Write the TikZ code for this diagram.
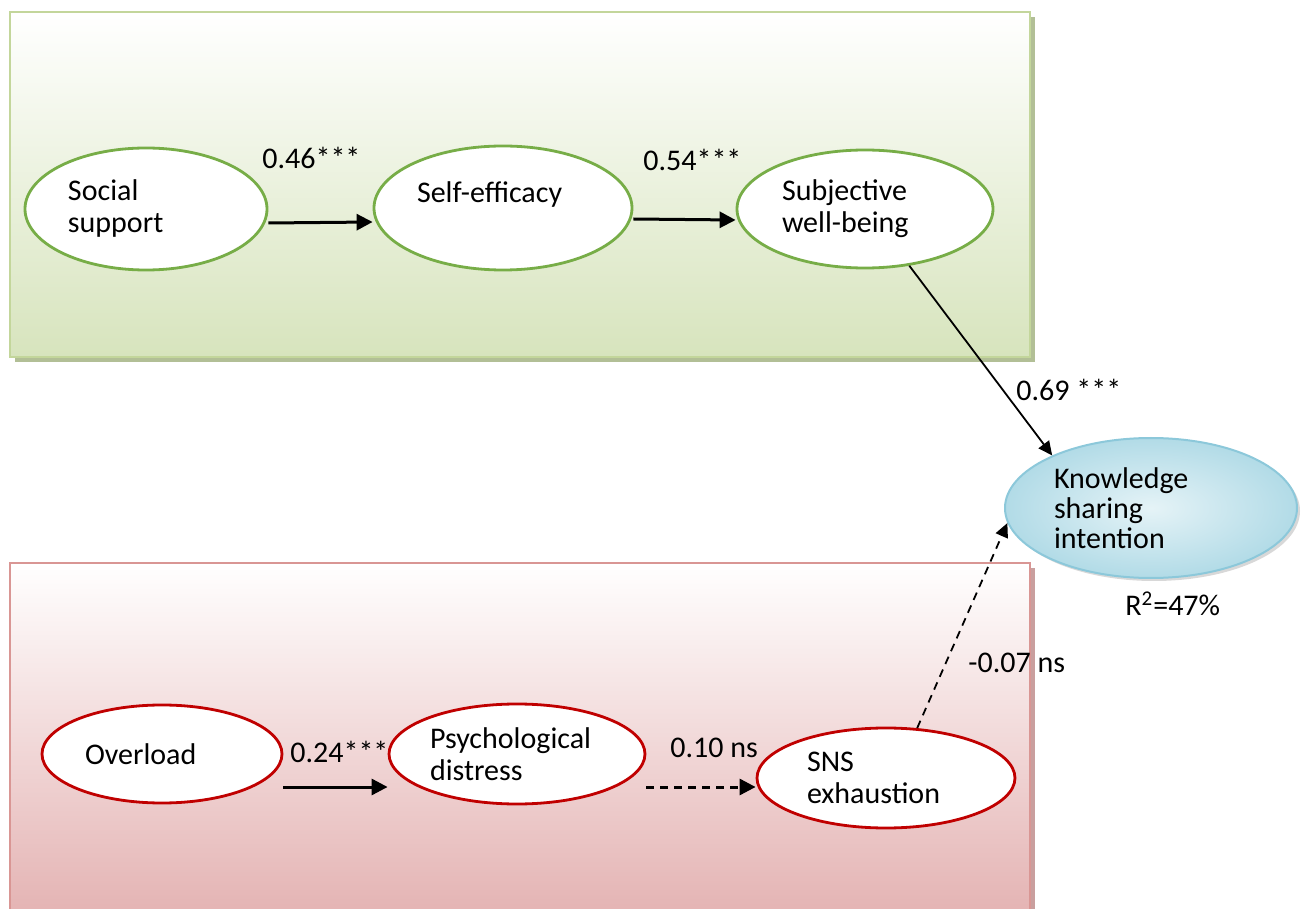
\documentclass[tikz,border=0pt]{standalone}
\usepackage{fontspec}
\setmainfont{Carlito}
\usetikzlibrary{shapes.geometric,arrows.meta,shadows}

\definecolor{grnline}{HTML}{77AD47}
\definecolor{grnbox}{HTML}{D7E4BD}
\definecolor{grnedge}{HTML}{C3D69B}
\definecolor{grnshade}{HTML}{B2BF96}
\definecolor{redline}{HTML}{C00000}
\definecolor{redbox}{HTML}{E4B3B3}
\definecolor{rededge}{HTML}{D99694}
\definecolor{redshade}{HTML}{C99F9E}
\definecolor{ksfill}{HTML}{A9D7E4}
\definecolor{ksline}{HTML}{8CC8DA}

\begin{document}
\begin{tikzpicture}[x=0.5pt, y=-0.5pt, font=\fontsize{15}{16}\selectfont,
  var/.style={ellipse, draw, line width=1.4pt, fill=white, inner sep=0pt, text width=80pt, align=left},
  good/.style={var, draw=grnline},
  bad/.style={var, draw=redline},
  coef/.style={anchor=west, inner sep=0pt},
  path/.style={-{Triangle[length=8pt,width=8pt]}, line width=1.5pt},
  thinpath/.style={-{Triangle[length=7pt,width=6.5pt]}, line width=0.9pt},
  ns/.style={dash pattern=on 4pt off 3pt}]

  \useasboundingbox (0,0) rectangle (1303,909);

  % Positive block
  \fill[grnshade] (15,17) rectangle (1035,362);
  \draw[grnedge, line width=1.2pt, top color=white, bottom color=grnbox] (10,12) rectangle (1030,357);

  % Negative block
  \fill[redshade] (15,568) rectangle (1035,920);
  \draw[rededge, line width=1.2pt, top color=white, bottom color=redbox] (10,563) rectangle (1030,915);

  % Constructs
  \node[good, minimum width=121pt, minimum height=61pt, text width=78pt] (ss) at (146,209) {Social\\support};
  \node[good, minimum width=129pt, minimum height=62pt, text width=86pt] (se) at (503,208) {Self-efficacy\\\mbox{}};
  \node[good, minimum width=128pt, minimum height=59pt, text width=83pt] (swb) at (865,209) {Subjective\\well-being};

  \node[bad, minimum width=120pt, minimum height=49pt, text width=77pt] (ov) at (162,754) {Overload};
  \node[bad, minimum width=128pt, minimum height=50pt, text width=87pt] (pd) at (517,754) {Psychological\\distress};
  \node[bad, minimum width=129pt, minimum height=50pt, text width=79pt] (sns) at (886,778) {SNS\\exhaustion};

  \node[ellipse, draw=ksline, line width=1pt, inner color=ksfill!30, outer color=ksfill!90,
        drop shadow={shadow xshift=1.5pt, shadow yshift=-1.5pt, fill=gray!60, opacity=0.5},
        inner sep=0pt, minimum width=146pt, minimum height=70pt, text width=97pt, align=left,
        font=\fontsize{15}{15}\selectfont] (ksi) at (1151,508) {Knowledge\\sharing\\intention};

  % Path coefficients
  \node[coef] (c1) at (262,158) {0.46***};
  \node[coef] (c2) at (643,160) {0.54***};
  \node[coef] (c3) at (1016,390) {0.69 ***};
  \node[coef] (c4) at (290,752) {0.24***};
  \node[coef] (c5) at (670,748) {0.10 ns};
  \node[coef] (c6) at (968,663) {-0.07 ns};
  \node[coef] (r2) at (1125,604) {R\textsuperscript{2}=47\%};

  % Arrows
  \draw[path] ([yshift=-7pt]ss.east) -- ([yshift=-7pt]se.west);
  \draw[path] ([yshift=-5.5pt]se.east) -- ([yshift=-5.5pt]swb.west);
  \draw[thinpath] (swb.-52) -- (ksi.152);
  \draw[path] ([yshift=-16.5pt]ov.east) -- ([yshift=-16.5pt]pd.west);
  \draw[path, ns] ([yshift=-16.5pt]pd.east) -- ([yshift=-4.5pt]sns.west);
  \draw[thinpath, ns] (sns.58) -- (ksi.186);

\end{tikzpicture}
\end{document}
